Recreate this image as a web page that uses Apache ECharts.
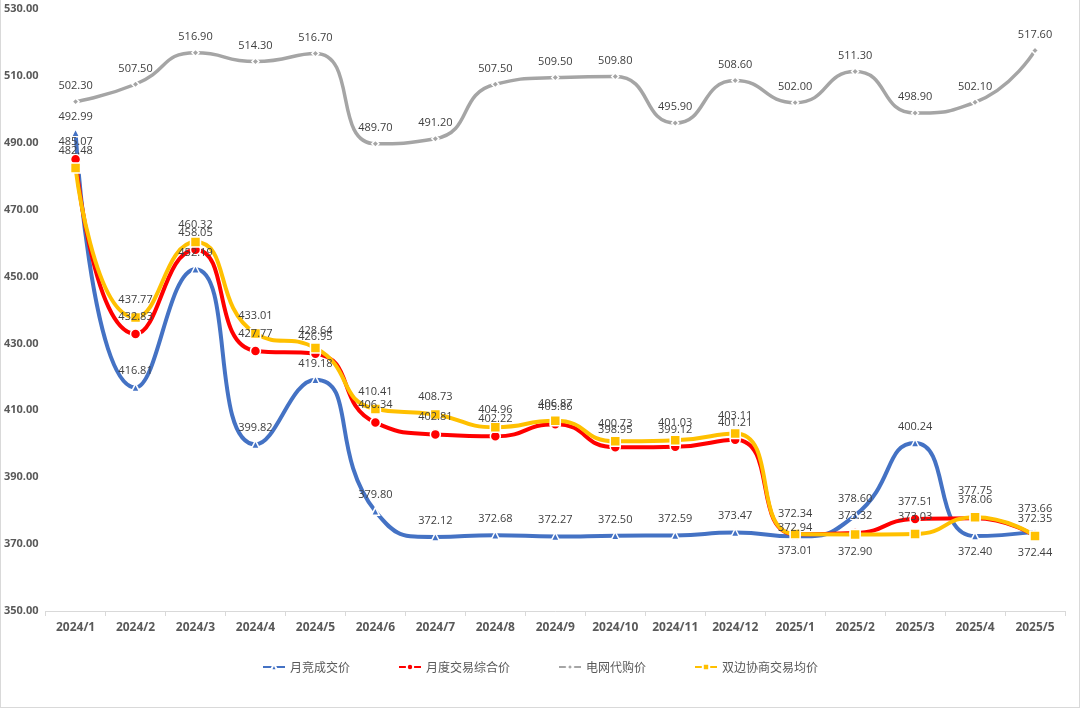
<!DOCTYPE html>
<html>
<head>
<meta charset="utf-8">
<script src="https://cdn.jsdelivr.net/npm/echarts@6/dist/echarts.min.js"></script>
<style>
  html, body { margin: 0; padding: 0; background: #fff; }
  #chart {
    width: 1080px; height: 708px; box-sizing: border-box;
    border-left: 1px solid #d9d9d9; border-right: 1px solid #d9d9d9; border-bottom: 1px solid #d9d9d9;
  }
</style>
</head>
<body>
<div id="chart"></div>
<script>
// categories
const months = ['2024/1', '2024/2', '2024/3', '2024/4', '2024/5', '2024/6', '2024/7', '2024/8', '2024/9',
  '2024/10', '2024/11', '2024/12', '2025/1', '2025/2', '2025/3', '2025/4', '2025/5']

// series values
const monthlyBid = [492.99, 416.81, 452.19, 399.82, 419.18, 379.80, 372.12, 372.68, 372.27,
  372.50, 372.59, 373.47, 372.34, 378.60, 400.24, 372.40, 373.66]
const monthlyComposite = [485.07, 432.83, 458.05, 427.77, 426.95, 406.34, 402.81, 402.22, 405.86,
  398.95, 399.12, 401.21, 372.94, 373.32, 377.51, 377.75, 372.35]
const gridAgency = [502.30, 507.50, 516.90, 514.30, 516.70, 489.70, 491.20, 507.50, 509.50,
  509.80, 495.90, 508.60, 502.00, 511.30, 498.90, 502.10, 517.60]
const bilateral = [482.48, 437.77, 460.32, 433.01, 428.64, 410.41, 408.73, 404.96, 406.87,
  400.73, 401.03, 403.11, 373.01, 372.90, 373.03, 378.06, 372.44]

// label tweaks where labels crowd together (index -> label override)
const blueLabelFix = { 12: { offset: [0, -6] }, 15: { position: 'bottom' }, 16: { offset: [0, -7] } }
const redLabelFix = { 12: { offset: [0, 11] }, 15: { offset: [0, -10] } }
const yellowLabelFix = { 12: { position: 'bottom' }, 13: { position: 'bottom' }, 16: { position: 'bottom' } }

const chart = echarts.init(document.getElementById('chart'))

const labelStyle = {
  show: true,
  position: 'top',
  distance: 6,
  color: '#404040',
  fontSize: 11,
  fontFamily: 'Open Sans, Noto Sans, sans-serif',
  formatter: p => p.value.toFixed(2)
}

const withFix = (values, fix) => values.map((v, i) =>
  fix[i] ? { value: v, label: fix[i] } : v)

const makeSeries = (name, data, color, symbol, symbolSize, width) => ({
  name,
  type: 'line',
  data,
  smooth: 0.55,
  symbol,
  symbolSize,
  showAllSymbol: true,
  lineStyle: { color, width },
  itemStyle: { color, borderColor: '#fff', borderWidth: 1.5 },
  label: labelStyle,
  emphasis: { disabled: true }
})

chart.setOption({
  animation: false,
  backgroundColor: '#fff',
  grid: { left: 44, right: 14, top: 9, bottom: 96 },
  legend: {
    bottom: 29,
    left: 'center',
    itemGap: 48,
    itemWidth: 22,
    itemHeight: 8,
    textStyle: { color: '#595959', fontSize: 12, fontFamily: 'Noto Sans CJK SC, sans-serif' },
    data: ['月竞成交价', '月度交易综合价', '电网代购价', '双边协商交易均价']
  },
  xAxis: {
    type: 'category',
    data: months,
    boundaryGap: true,
    axisLine: { lineStyle: { color: '#d9d9d9', width: 1 } },
    axisTick: { show: true, alignWithLabel: false, length: 5, lineStyle: { color: '#d9d9d9' } },
    axisLabel: {
      color: '#595959', fontSize: 12, fontWeight: 'bold', margin: 11,
      fontFamily: 'Open Sans, Noto Sans, sans-serif'
    }
  },
  yAxis: {
    type: 'value',
    min: 350,
    max: 530,
    interval: 20,
    axisLine: { show: false },
    axisTick: { show: false },
    splitLine: { show: false },
    axisLabel: {
      color: '#595959', fontSize: 11, fontWeight: 'bold', margin: 7,
      fontFamily: 'Open Sans, Noto Sans, sans-serif',
      formatter: v => v.toFixed(2)
    }
  },
  series: [
    makeSeries('月竞成交价', withFix(monthlyBid, blueLabelFix), '#4472C4', 'triangle', 8, 4),
    makeSeries('月度交易综合价', withFix(monthlyComposite, redLabelFix), '#FF0000', 'circle', 10, 4),
    makeSeries('电网代购价', gridAgency, '#A5A5A5', 'diamond', 7, 3.5),
    makeSeries('双边协商交易均价', withFix(bilateral, yellowLabelFix), '#FFC000', 'rect', 10, 4)
  ]
})
</script>
</body>
</html>
